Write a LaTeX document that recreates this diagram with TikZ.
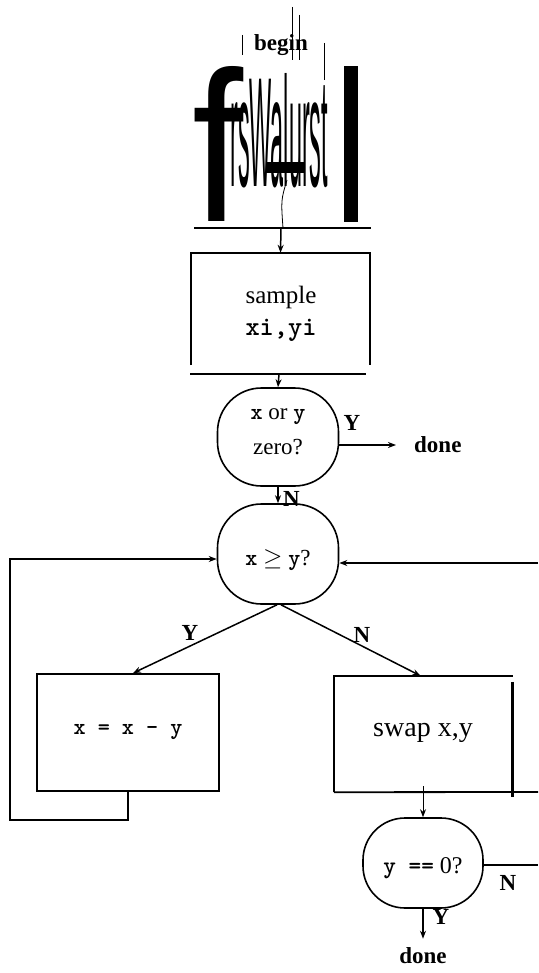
\documentclass[tikz,border=0pt]{standalone}
\usepackage{fontspec}
\setmainfont{Liberation Serif}
\setsansfont{Liberation Sans}
\usetikzlibrary{arrows.meta}
\tikzset{
  edge/.style={line width=1.8pt},
  thin/.style={line width=0.8pt},
  arr/.style={line width=1.5pt,-{Stealth[length=8pt,width=6pt]}},
  decision/.style={draw,line width=1.6pt,rounded corners=44pt,inner sep=0pt,align=center},
  area/.style={draw=none,inner sep=0pt},
  txt/.style={inner sep=0pt,align=center,font=\fontsize{23}{30}\selectfont},
  lbl/.style={inner sep=0pt,font=\bfseries\fontsize{23}{23}\selectfont},
}
\begin{document}
\begin{tikzpicture}[x=1pt,y=-1pt]
\useasboundingbox (0,0) rectangle (538,973);
% ---- garbled top block ----
\node[lbl] (begin) at (281,45) {begin};
\node[inner sep=0pt,anchor=south west] (bigf) at (192,222) {\resizebox{51pt}{155pt}{\sffamily f}};
\node[inner sep=0pt,anchor=south west] (stretch) at (230,188) {\resizebox{98pt}{113pt}{\sffamily rsWalurst}};
\fill (266,162) rectangle (305,173);
\fill (344,66) rectangle (358,222);
\draw[thin] (242,35) -- (242,55);
\draw[thin] (292,7) -- (292,60);
\draw[thin] (299,15) -- (299,60);
\draw[thin] (324,43) -- (324,80);
\draw[thin] (287,180) .. controls (281,200) .. (283,228);
\coordinate (tl) at (194,228);
\coordinate (tr) at (371,228);
\coordinate (t0) at (281,228);
\draw[line width=2.2pt] (tl) -- (tr);
% ---- sample box ----
\node[area,minimum width=179pt,minimum height=112pt] (samplebox) at (280.5,309) {};
\draw[edge] (samplebox.south west) -- (samplebox.north west) -- (samplebox.north east) -- (samplebox.south east);
\node[txt,font=\fontsize{25}{32}\selectfont] (sampletext) at (281,314) {sample\\{\ttfamily\bfseries\fontsize{27}{32}\selectfont xi,yi}};
\coordinate (sl) at (190,374);
\coordinate (sr) at (366,374);
\coordinate (s0) at (279,374);
\draw[edge] (sl) -- (sr);
\draw[arr] (t0) -- (samplebox.north);
% ---- decision 1 ----
\node[decision,minimum width=121pt,minimum height=98pt] (d1) at (278,437) {};
\node[txt,font=\fontsize{23}{35}\selectfont] (d1text) at (278,432) {{\ttfamily\bfseries x} or {\ttfamily\bfseries y}\\zero?};
\draw[arr] (s0) -- (d1.north);
\node[lbl,anchor=west] (done1) at (414,445) {done};
\draw[arr] ([yshift=-8pt]d1.east) -- ([xshift=-18pt]done1.west);
\node[lbl] (y1) at (352,423) {Y};
% ---- decision 2 ----
\node[decision,minimum width=121pt,minimum height=100pt] (d2) at (278,554) {};
\node[txt,font=\fontsize{23}{26}\selectfont] (d2text) at (278,560) {{\ttfamily\bfseries x} $\geq$ {\ttfamily\bfseries y}?};
\draw[arr] (d1.south) -- (d2.north);
\node[lbl,anchor=west] (n1) at (283,499) {N};
\coordinate (r2) at (538,563);
\draw[arr] (r2) -- ([yshift=-9pt]d2.east);
% ---- box 1 ----
\node[area,draw,line width=1.8pt,minimum width=182pt,minimum height=117pt] (b1) at (128,732.5) {};
\node[txt,font=\ttfamily\bfseries\fontsize{23}{24}\selectfont] (b1text) at (128,732) {x = x - y};
\draw[arr] ([xshift=-1pt]d2.south) -- ([xshift=5pt]b1.north);
\node[lbl] (y2) at (190,633) {Y};
\draw[arr] (b1.south) -- ++(0,28) -| (10,559) -- ([yshift=-5pt]d2.west);
% ---- box 2 ----
\node[area,minimum width=179pt,minimum height=116pt] (b2) at (423.5,734) {};
\draw[edge] (b2.south west) -- (b2.north west) -- (b2.north east);
\coordinate (b2r) at (538,792);
\draw[edge] (b2.south west) -- (b2r);
\draw[line width=2.8pt] ([xshift=-1pt,yshift=-6pt]b2.north east) -- ([xshift=-1pt,yshift=-5pt]b2.south east);
\node[txt,font=\fontsize{28}{30}\selectfont] (b2text) at (423,733) {swap x,y};
\draw[arr] ([xshift=-3pt]d2.south) ++(6pt,0) -- ([xshift=-3pt]b2.north);
\node[lbl] (n2) at (362,635) {N};
% ---- decision 3 ----
\node[decision,minimum width=120pt,minimum height=90pt,rounded corners=42pt] (d3) at (423,863) {};
\node[txt,font=\fontsize{24}{26}\selectfont] (d3text) at (423,868) {{\ttfamily\bfseries y ==} 0?};
\coordinate (b2a) at (423,786);
\draw[arr,line width=1pt] (b2a) -- (d3.north);
\coordinate (r3) at (538,865);
\draw[line width=1.4pt] ([yshift=-2pt]d3.east) -- (r3);
\node[lbl] (n3) at (508,883) {N};
\node[lbl] (done2) at (423,956) {done};
\draw[arr] (d3.south) -- ([yshift=9pt]done2.north);
\node[lbl] (y3) at (441,917) {Y};
\end{tikzpicture}
\end{document}
